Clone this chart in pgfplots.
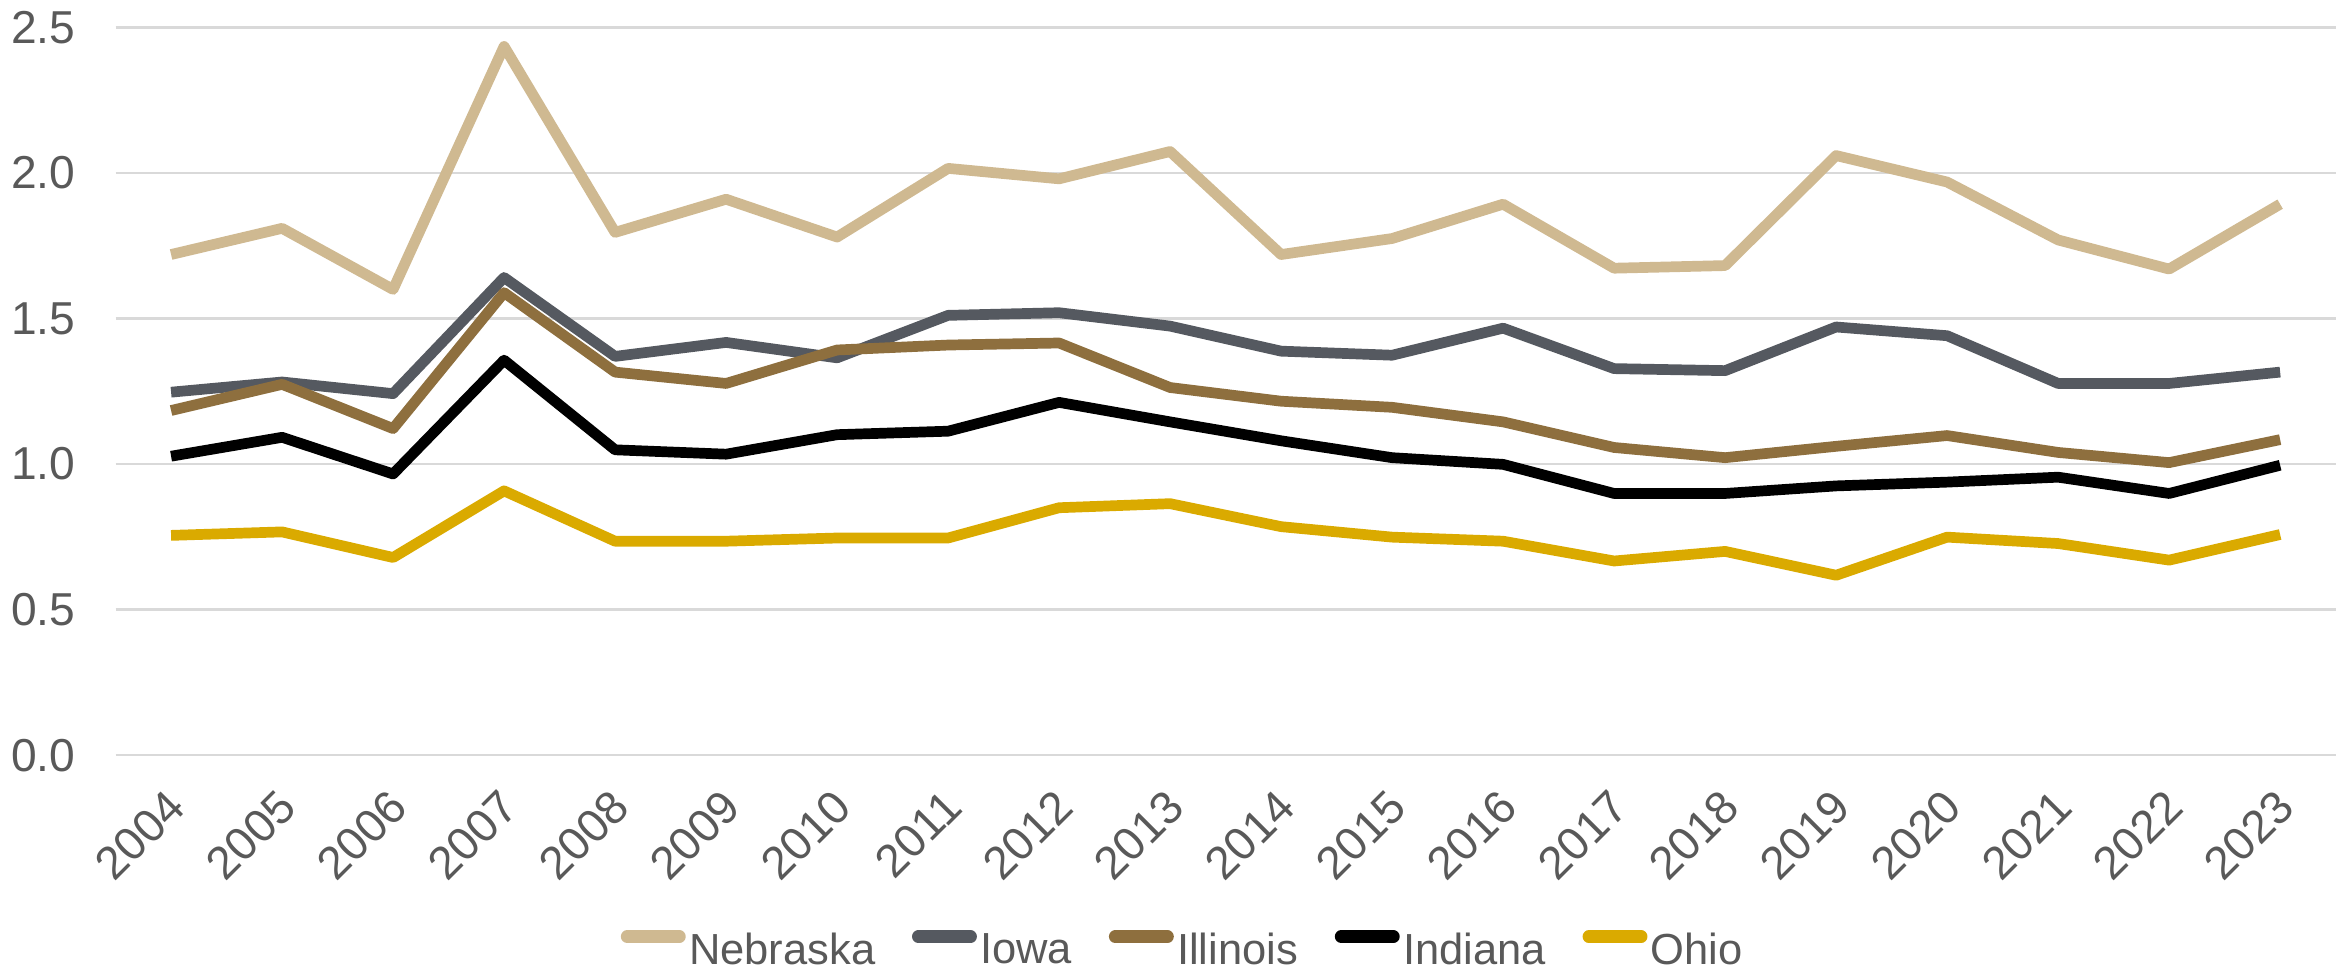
\documentclass[border={0pt 2.4pt 4.2pt 0pt}]{standalone}
\usepackage{pgfplots}
\pgfplotsset{compat=1.18}
\usepackage{pgfplotstable}
\usepackage{fontspec}
\setmainfont{Liberation Sans}
\definecolor{neb}{HTML}{CFB991}
\definecolor{iowa}{HTML}{555960}
\definecolor{ill}{HTML}{8E6F3E}
\definecolor{ohio}{HTML}{DAAA00}
\definecolor{txt}{HTML}{595959}
\definecolor{grd}{HTML}{D9D9D9}
\pgfplotstableread{
x Nebraska Iowa Illinois Indiana Ohio
0  1.72  1.247 1.184 1.027 0.755
1  1.81  1.282 1.274 1.092 0.767
2  1.60  1.242 1.122 0.966 0.679
3  2.435 1.641 1.589 1.357 0.908
4  1.796 1.37  1.316 1.049 0.735
5  1.91  1.418 1.277 1.034 0.735
6  1.78  1.365 1.392 1.101 0.746
7  2.016 1.511 1.409 1.113 0.746
8  1.98  1.52  1.416 1.212 0.85
9  2.074 1.474 1.263 1.145 0.864
10 1.72  1.388 1.216 1.08  0.785
11 1.775 1.374 1.195 1.022 0.749
12 1.893 1.467 1.145 0.999 0.735
13 1.673 1.328 1.057 0.899 0.667
14 1.682 1.321 1.022 0.899 0.70
15 2.06  1.471 1.061 0.925 0.618
16 1.969 1.441 1.098 0.938 0.749
17 1.77  1.277 1.04  0.955 0.727
18 1.67  1.277 1.005 0.899 0.67
19 1.893 1.316 1.084 0.996 0.758
}\datatable
\begin{document}
\begin{tikzpicture}
\begin{axis}[
  scale only axis,
  width=663.6pt, height=217.5pt,
  xmin=-0.5, xmax=19.5,
  ymin=0, ymax=2.5,
  ytick={0,0.5,1,1.5,2,2.5},
  xtick={0,...,19},
  xticklabels={2004,2005,2006,2007,2008,2009,2010,2011,2012,2013,2014,2015,2016,2017,2018,2019,2020,2021,2022,2023},
  ymajorgrids,
  major grid style={grd, line width=0.8pt},
  axis line style={draw=none},
  major tick length=0pt,
  tick label style={font=\fontsize{13.8}{16}\selectfont, text=txt},
  yticklabel style={xshift=-8.5pt},
  xticklabel style={xshift=4pt, yshift=-10.5pt, rotate=45, anchor=east},
  /pgf/number format/.cd, fixed, fixed zerofill, precision=1, assume math mode=true,
  /pgfplots/.cd,
  legend columns=-1,
  legend style={draw=none, inner sep=0pt, outer sep=0pt, at={(0.481,-0.2872)}, anchor=south,
    font=\fontsize{13}{16}\selectfont, text=txt,
    /tikz/every even column/.append style={column sep=10pt},
    nodes={inner xsep=1pt, inner ysep=0pt, text depth=0pt}},
  legend image code/.code={\draw[#1, line width=3.8pt, line cap=round] (1.9pt,3.5pt) -- (17.5pt,3.5pt);},
  every axis plot/.append style={line width=3.2pt, line join=round},
]
\addplot[neb] table[x=x, y=Nebraska] {\datatable};
\addlegendentry{Nebraska}
\addplot[iowa] table[x=x, y=Iowa] {\datatable};
\addlegendentry{Iowa}
\addplot[ill] table[x=x, y=Illinois] {\datatable};
\addlegendentry{Illinois}
\addplot[black] table[x=x, y=Indiana] {\datatable};
\addlegendentry{Indiana}
\addplot[ohio] table[x=x, y=Ohio] {\datatable};
\addlegendentry{Ohio}
\end{axis}
\end{tikzpicture}
\end{document}
